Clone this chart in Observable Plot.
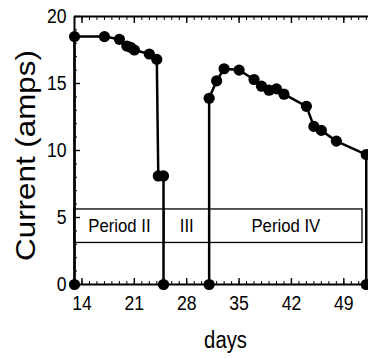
<!DOCTYPE html>
<html>
<head>
<meta charset="utf-8">
<script src="https://cdn.jsdelivr.net/npm/d3@7"></script>
<script src="https://cdn.jsdelivr.net/npm/@observablehq/plot@0.6"></script>
<style>
  html, body { margin: 0; padding: 0; background: #fff; }
  svg { display: block; }
</style>
</head>
<body>
<div id="chart"></div>
<script>
// Cell current through operating periods II and IV (day of run vs amps)
const daysII    = [13, 13,   17,   19,   20,   20.5, 21,   23,   24,   24.2, 24.9, 24.9];
const currentII = [0,  18.5, 18.5, 18.3, 17.8, 17.7, 17.5, 17.2, 16.8, 8.1,  8.1,  0];

const daysIV    = [31, 31,   32,   33,   35,   37,   38,   39,   40,   41,   44,   45,   46,   48,   52,  52];
const currentIV = [0,  13.9, 15.2, 16.1, 16.0, 15.3, 14.8, 14.5, 14.6, 14.2, 13.3, 11.8, 11.5, 10.7, 9.7, 0];

// Period band drawn across the lower part of the plot
const periodNames = ["Period II", "III", "Period IV"];
const periodStart = [13, 25, 31];
const periodEnd   = [25, 31, 51.5];
const periodBand  = [3.1, 5.6];

// Axes
const xTicks = [14, 21, 28, 35, 42, 49];
const yTicks = [0, 5, 10, 15, 20];
const xDomain = [13, 52.3];
const yDomain = [0, 20];
const xMinor = d3.range(13, 53);
const yMinor = d3.range(0, 21);

const series = [
  ...daysII.map((d, i) => ({day: d, current: currentII[i], period: "II"})),
  ...daysIV.map((d, i) => ({day: d, current: currentIV[i], period: "IV"}))
];
const periods = periodNames.map((name, i) => ({name, start: periodStart[i], end: periodEnd[i]}));

const W = 368, H = 358, mL = 74, mR = 0, mT = 16, mB = 74;
const font = "'Liberation Sans', Arial, Helvetica, sans-serif";
const blank = () => "";

// inward-pointing ticks: drawn outward, then shifted back across the axis line
const inwardTicks = (anchor, ticks, size, width) => {
  const shift = anchor === "bottom" ? {dy: -size} : anchor === "top" ? {dy: size} : {dx: size};
  const opts = {anchor, ticks, tickSize: size, tickFormat: blank, label: null, strokeWidth: width, ...shift};
  return anchor === "left" ? Plot.axisY(opts) : Plot.axisX(opts);
};

const chart = Plot.plot({
  width: W,
  height: H,
  marginLeft: mL,
  marginRight: mR,
  marginTop: mT,
  marginBottom: mB,
  style: {fontFamily: font, fontSize: "20px", background: "#fff", color: "#000", overflow: "visible"},
  x: {domain: xDomain},
  y: {domain: yDomain},
  marks: [
    // period boxes and their names
    Plot.rect(periods, {x1: "start", x2: "end", y1: periodBand[0], y2: periodBand[1], stroke: "#000", strokeWidth: 1.3, fill: "none"}),
    Plot.text(periods, {x: d => (d.start + d.end) / 2, y: (periodBand[0] + periodBand[1]) / 2, text: "name", fontSize: 19, fill: "#000"}),

    // ticks on bottom, top and left
    inwardTicks("bottom", xMinor, 3, 1),
    inwardTicks("bottom", xTicks, 6, 1.4),
    inwardTicks("top", xMinor, 3, 1),
    inwardTicks("top", xTicks, 6, 1.4),
    inwardTicks("left", yMinor, 3, 1),
    inwardTicks("left", yTicks, 6, 1.4),

    // frame lines
    Plot.ruleY(yDomain, {stroke: "#000", strokeWidth: 2}),
    Plot.ruleX([xDomain[0]], {stroke: "#000", strokeWidth: 2}),

    // tick labels
    Plot.axisX({ticks: xTicks, tickSize: 0, tickPadding: 11, label: null, fontSize: 20}),
    Plot.axisY({ticks: yTicks, tickSize: 0, tickPadding: 8, label: null, fontSize: 20}),

    // axis titles
    Plot.text(["days"], {frameAnchor: "bottom", lineAnchor: "middle", textAnchor: "middle", dx: 4, dy: 56, fontSize: 23, fill: "#000"}),
    Plot.text(["Current (amps)"], {frameAnchor: "left", lineAnchor: "middle", textAnchor: "middle", rotate: -90, dx: -48, dy: 5, fontSize: 28, fill: "#000"}),

    // current trace
    Plot.line(series, {x: "day", y: "current", z: "period", stroke: "#000", strokeWidth: 2.5}),
    Plot.dot(series, {x: "day", y: "current", r: 5.6, fill: "#000", stroke: "none"})
  ]
});

document.getElementById("chart").appendChild(chart);

// Condensed lettering: squeeze horizontal labels, stretch the vertical title
chart.querySelectorAll("text").forEach(t => {
  if (!t.textContent) return;
  const natural = t.getComputedTextLength();
  const rotated = (t.getAttribute("transform") || "").includes("rotate");
  t.setAttribute("textLength", natural * (rotated ? 1.12 : 0.88));
  t.setAttribute("lengthAdjust", "spacingAndGlyphs");
});
</script>
</body>
</html>
